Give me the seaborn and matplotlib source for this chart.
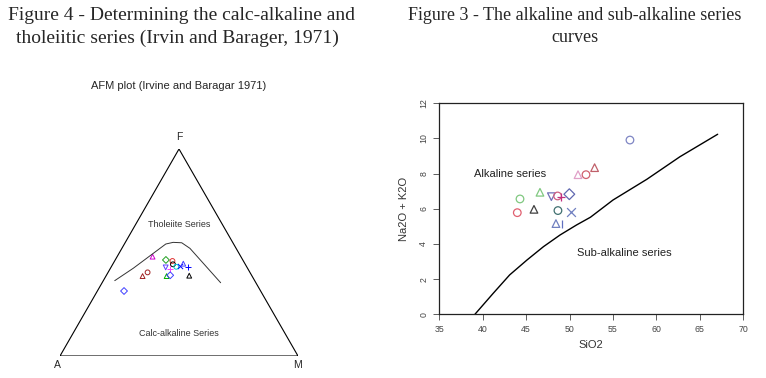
import numpy as np
import pandas as pd
import matplotlib
matplotlib.use("Agg")
import matplotlib.pyplot as plt
import seaborn as sns

# ---- AFM plot data (percent A, F, M) ----
afm_A = [37.1, 57.4, 46.0, 43.0, 32.3, 29.8, 30.4, 34.2, 32.9, 29.6, 27.7, 25.9, 24.9, 26.3, 35.9, 34.2]
afm_F = [48.0, 31.4, 38.6, 40.4, 46.4, 45.9, 44.3, 42.8, 41.9, 43.1, 43.5, 44.6, 43.0, 38.8, 38.6, 39.0]
afm_M = [14.9, 11.2, 15.4, 16.6, 21.3, 24.3, 25.3, 23.0, 25.2, 27.3, 28.8, 29.5, 32.1, 34.9, 25.5, 26.8]
afm_marker = ['^', 'D', '^', 'o', 'D', 'o', 'o', 'v', '+', 'o', 'x', '^', '+', '^', '^', 'D']
afm_color = ['#d000d0', '#4040ff', '#a02020', '#a02020', '#20a020', '#e03030', '#000000', '#6040ff',
             '#ff40ff', '#00c8d0', '#0000ff', '#4040ff', '#0000ff', '#000000', '#00b000', '#4040ff']

# Irvine & Baragar dividing curve (A, F, M)
curve_A = [58.8, 48.0, 36.0, 28.5, 25.0, 21.5, 19.4, 17.4, 14.8]
curve_F = [36.4, 42.4, 49.6, 54.1, 54.9, 54.7, 52.0, 44.8, 35.4]
curve_M = [4.8, 9.6, 14.4, 17.4, 20.1, 23.8, 28.6, 37.8, 49.8]

# ---- TAS data ----
sio2 = [56.95, 52.88, 50.97, 51.89, 46.59, 44.29, 43.98, 45.9, 47.9, 48.62, 48.97, 49.97, 48.66, 50.16, 48.43, 49.12]
alk = [9.91, 8.34, 7.94, 7.94, 6.94, 6.56, 5.78, 5.97, 6.69, 6.73, 6.65, 6.83, 5.9, 5.84, 5.16, 5.12]
tas_marker = ['o', '^', '^', 'o', '^', 'o', 'o', '^', 'v', 'o', '+', 'D', 'o', 'x', '^', '|']
tas_color = ['#7f86c4', '#c0606a', '#e0a0c8', '#d06070', '#80c880', '#80c880', '#e06070', '#404040',
             '#7070b8', '#d06080', '#c03080', '#6068b0', '#407070', '#7080c0', '#7080c0', '#6070c0']

# alkaline / sub-alkaline dividing line
line_sio2 = [39.1, 41.2, 43.1, 45.1, 47.0, 48.9, 50.8, 52.4, 55.0, 58.9, 62.7, 67.05]
line_alk = [0.0, 1.19, 2.24, 3.09, 3.85, 4.51, 5.08, 5.52, 6.5, 7.68, 8.96, 10.24]

sns.set_style("white")
plt.rcParams['font.family'] = ['Liberation Sans', 'DejaVu Sans']

fig = plt.figure(figsize=(7.66, 3.78), dpi=100)

H = np.sqrt(3) / 2


def tern(a, f, m):
    # ternary (A, F, M) -> x, y in the triangle A=(0,0), M=(1,0), F=(0.5,H)
    a, f, m = np.asarray(a, float), np.asarray(f, float), np.asarray(m, float)
    tot = a + f + m
    f, m = f / tot, m / tot
    return m + f / 2, f * H


# captions
fig.text(181 / 766, 1 - 15 / 378, "Figure 4 - Determining the calc-alkaline and",
         family='Liberation Serif', fontsize=14, ha='center', va='center')
fig.text(177 / 766, 1 - 38 / 378, "tholeiitic series (Irvin and Barager, 1971)",
         family='Liberation Serif', fontsize=14, ha='center', va='center')
fig.text(575 / 766, 1 - 15 / 378, "Figure 3 - The alkaline and sub-alkaline series",
         family='Liberation Serif', fontsize=13, ha='center', va='center')
fig.text(575 / 766, 1 - 38 / 378, "curves",
         family='Liberation Serif', fontsize=13, ha='center', va='center')

# ---- left: AFM ternary ----
ax1 = fig.add_axes([60 / 766, 22 / 378, 238 / 766, 207 / 378])
ax1.set_xlim(0, 1)
ax1.set_ylim(0, H)
ax1.axis('off')

tri = pd.DataFrame({'x': [0, 1, 0.5, 0], 'y': [0, 0, H, 0]})
sns.lineplot(data=tri, x='x', y='y', sort=False, estimator=None, color='black', lw=0.8, ax=ax1)

cx, cy = tern(curve_A, curve_F, curve_M)
sns.lineplot(x=cx, y=cy, sort=False, estimator=None, color='#333333', lw=0.7, ax=ax1)

px, py = tern(afm_A, afm_F, afm_M)
for x, y, mk, c in zip(px, py, afm_marker, afm_color):
    if mk in ('+', 'x', '|'):
        sns.scatterplot(x=[x], y=[y], marker=mk, color=c, s=14, linewidth=0.7, ax=ax1)
    else:
        sns.scatterplot(x=[x], y=[y], marker=mk, facecolor='none', edgecolor=c,
                        s=12, linewidth=0.7, ax=ax1)

ax1.text(0.5, H + 7 / 207 * H, "F", fontsize=7.5, ha='center', va='bottom', clip_on=False)
ax1.text(-0.01, -9 / 207 * H, "A", fontsize=7.5, ha='center', va='center', clip_on=False)
ax1.text(1.0, -9 / 207 * H, "M", fontsize=7.5, ha='center', va='center', clip_on=False)
ax1.text(0.5, (356 - 225) / 207 * H, "Tholeiite Series", fontsize=6.5, color='#333333',
         ha='center', va='center')
ax1.text(0.5, (356 - 333) / 207 * H, "Calc-alkaline Series", fontsize=6.5, color='#333333',
         ha='center', va='center')
ax1.text(0.5, (356 - 86) / 207 * H, "AFM plot (Irvine and Baragar 1971)", fontsize=8,
         ha='center', va='center', clip_on=False)

# ---- right: TAS ----
ax2 = fig.add_axes([439.3 / 766, 63.7 / 378, 304 / 766, 211 / 378])
sns.lineplot(x=line_sio2, y=line_alk, sort=False, estimator=None, color='black', lw=1.0, ax=ax2)
for x, y, mk, c in zip(sio2, alk, tas_marker, tas_color):
    if mk in ('+', 'x', '|'):
        sns.scatterplot(x=[x], y=[y], marker=mk, color=c, s=40, linewidth=0.9, ax=ax2)
    else:
        sns.scatterplot(x=[x], y=[y], marker=mk, facecolor='none', edgecolor=c,
                        s=30, linewidth=0.9, ax=ax2)

ax2.set_xlim(35, 70)
ax2.set_ylim(0, 12)
ax2.set_xticks(range(35, 71, 5))
ax2.set_yticks(range(0, 13, 2))
ax2.tick_params(axis='both', direction='out', length=4, width=0.6, labelsize=6.3,
                colors='#444444', left=True, bottom=True, pad=4)
ax2.tick_params(axis='y', labelrotation=90)
for lab in ax2.get_yticklabels():
    lab.set_va('center')
for sp in ax2.spines.values():
    sp.set_color('#222222')
    sp.set_linewidth(0.9)
ax2.set_xlabel("SiO2", fontsize=8, color='#333333', labelpad=4)
ax2.set_ylabel("Na2O + K2O", fontsize=8, color='#333333', labelpad=7)
ax2.text(43.2, 7.96, "Alkaline series", fontsize=8, color='#222222', ha='center', va='center')
ax2.text(56.3, 3.51, "Sub-alkaline series", fontsize=8, color='#222222', ha='center', va='center')

fig.savefig("out.png", dpi=100)
